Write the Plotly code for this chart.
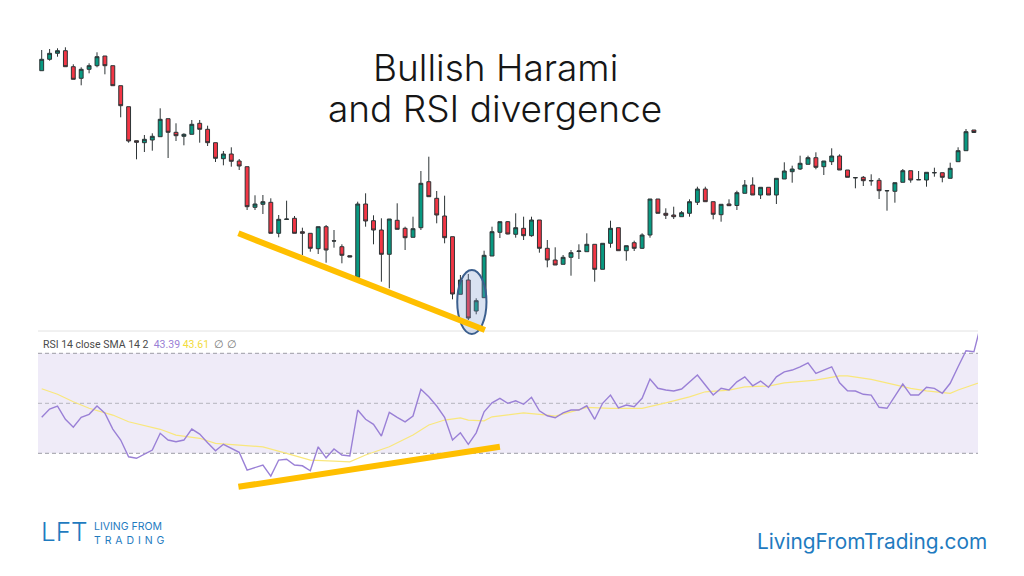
import plotly.graph_objects as go

# ---------------- data ----------------
opens = [329.3, 340.7, 346.7, 349.3, 333.3, 321.7, 330.7, 334.3, 344.0, 334.3,
         314.3, 293.3, 259.3, 257.3, 260.0, 263.3, 281.3, 267.7, 263.7, 265.7,
         276.7, 270.7, 257.3, 241.3, 246.0, 239.0, 233.3, 192.7, 195.7, 197.7,
         166.7, 180.5, 181.7, 168.3, 166.7, 151.3, 173.3, 159.2, 153.3, 144.3,
         122.7, 196.0, 179.3, 170.0, 145.7, 179.7, 171.7, 162.7, 172.3, 218.3,
         201.7, 184.0, 163.3, 105.7, 120.0, 89.0, 102.3, 144.0, 167.7, 178.3,
         165.7, 171.7, 164.3, 180.0, 151.7, 140.0, 135.7, 142.7, 148.5, 148.3,
         155.7, 130.7, 156.7, 172.3, 149.3, 157.3, 151.7, 165.0, 201.0, 186.7,
         185.0, 183.3, 186.7, 197.7, 211.0, 198.3, 185.3, 196.0, 194.5, 206.7,
         215.0, 205.0, 212.7, 205.0, 221.0, 228.3, 231.0, 235.7, 242.3, 233.3,
         238.3, 244.0, 230.0, 222.5, 222.7, 219.5, 219.7, 209.5, 208.7, 217.7,
         229.3, 220.5, 220.0, 227.5, 227.3, 221.7, 238.3, 249.3, 270.0]
highs = [350.0, 351.0, 351.7, 352.7, 335.7, 332.7, 336.7, 347.7, 344.0, 334.3,
         314.3, 293.3, 259.3, 265.0, 266.7, 291.7, 281.3, 276.7, 266.7, 280.0,
         280.0, 274.3, 257.3, 249.0, 252.7, 241.0, 233.3, 204.7, 205.0, 201.7,
         185.0, 199.3, 184.0, 172.3, 166.7, 173.3, 175.0, 170.0, 155.7, 144.3,
         198.3, 206.7, 184.7, 181.7, 181.0, 196.7, 173.3, 183.3, 229.0, 243.3,
         209.0, 204.3, 163.3, 125.0, 126.0, 101.7, 149.3, 173.3, 178.3, 179.0,
         186.7, 183.3, 183.3, 180.0, 160.0, 152.7, 145.0, 150.0, 155.7, 166.7,
         155.7, 156.7, 179.3, 172.3, 154.3, 159.3, 166.7, 201.0, 201.0, 191.7,
         193.3, 189.0, 200.7, 213.3, 213.3, 198.3, 195.7, 200.7, 209.3, 220.0,
         222.7, 212.7, 212.7, 221.7, 237.7, 234.3, 244.3, 244.3, 247.7, 239.0,
         251.7, 245.7, 230.0, 222.7, 224.0, 225.7, 222.0, 209.7, 217.3, 231.0,
         229.3, 229.0, 227.7, 232.3, 227.3, 237.3, 252.7, 271.0, 270.0]
lows = [329.3, 339.3, 343.3, 333.3, 320.7, 314.7, 326.7, 332.7, 325.7, 314.3,
        282.7, 257.3, 240.7, 248.0, 249.3, 263.3, 242.0, 259.0, 254.7, 265.7,
        257.3, 254.0, 238.0, 234.7, 233.3, 230.0, 190.0, 190.0, 186.0, 166.7,
        162.7, 180.0, 166.7, 145.0, 148.3, 146.0, 137.3, 152.3, 136.7, 143.0,
        122.7, 173.3, 155.7, 118.3, 111.7, 170.7, 150.0, 162.7, 170.0, 203.3,
        176.7, 156.7, 100.7, 105.7, 80.0, 85.7, 102.3, 144.0, 162.0, 165.7,
        162.3, 160.0, 163.3, 147.3, 132.7, 135.0, 135.7, 124.3, 141.0, 148.3,
        118.3, 130.7, 152.3, 149.3, 139.3, 149.0, 151.0, 162.3, 186.7, 181.0,
        181.0, 183.3, 183.3, 195.0, 198.3, 180.7, 178.3, 194.0, 190.0, 206.7,
        205.0, 201.0, 205.0, 196.0, 221.0, 217.3, 230.0, 235.7, 230.7, 225.0,
        235.0, 230.0, 222.7, 211.7, 214.0, 214.3, 201.0, 189.3, 197.3, 217.7,
        217.3, 220.0, 213.3, 223.3, 217.7, 221.7, 238.3, 249.3, 267.3]
closes = [340.7, 346.7, 349.3, 333.3, 320.7, 330.7, 334.3, 343.3, 334.3, 314.3,
          294.3, 259.0, 257.7, 260.7, 263.7, 280.7, 267.7, 264.3, 265.7, 275.7,
          270.7, 257.3, 241.7, 246.0, 238.7, 234.0, 193.3, 196.0, 198.3, 166.7,
          180.7, 181.0, 166.7, 166.7, 151.7, 173.3, 150.0, 159.0, 144.7, 143.0,
          196.0, 179.0, 170.0, 145.7, 181.0, 170.7, 162.3, 171.3, 216.7, 203.3,
          185.0, 162.3, 106.0, 120.0, 82.0, 99.3, 144.7, 168.3, 178.3, 166.0,
          172.3, 164.3, 180.0, 151.7, 140.0, 135.0, 142.7, 147.3, 149.0, 155.7,
          130.7, 156.7, 171.7, 149.3, 154.3, 151.7, 165.0, 201.0, 186.7, 184.7,
          183.3, 187.3, 198.3, 211.0, 198.3, 185.7, 195.7, 194.3, 207.3, 215.0,
          205.0, 212.7, 205.0, 221.7, 229.0, 231.0, 236.7, 242.3, 232.7, 239.0,
          244.0, 230.0, 222.7, 222.2, 219.3, 219.2, 209.3, 209.2, 217.3, 229.3,
          220.0, 220.2, 227.7, 227.2, 222.7, 231.7, 249.3, 268.3, 267.5]

rsi = [44.4, 47.7, 48.9, 43.6, 40.4, 44.4, 45.6, 48.9, 46.0, 39.7,
       35.3, 28.6, 28.0, 29.7, 31.3, 38.0, 35.3, 34.6, 35.3, 39.7,
       37.7, 34.2, 31.0, 33.6, 32.0, 30.4, 23.3, 24.4, 25.3, 20.9,
       27.3, 27.6, 25.3, 25.0, 23.0, 32.6, 28.2, 31.7, 29.3, 28.9,
       47.3, 43.6, 41.6, 36.9, 46.4, 44.4, 42.6, 44.9, 55.6, 52.6,
       48.9, 44.4, 35.3, 38.2, 33.6, 38.2, 46.6, 50.2, 52.0, 50.0,
       51.0, 49.6, 52.4, 47.0, 45.0, 44.2, 46.2, 47.3, 47.3, 49.0,
       43.6, 50.0, 53.3, 48.2, 49.3, 48.6, 52.0, 59.7, 56.0, 55.3,
       54.9, 55.7, 58.4, 61.3, 57.3, 53.3, 56.0, 55.3, 58.6, 60.6,
       57.0, 58.9, 56.4, 60.6, 62.6, 63.3, 64.6, 66.2, 62.0, 63.3,
       64.6, 58.2, 55.0, 54.9, 53.6, 53.3, 48.4, 48.0, 52.9, 57.7,
       53.3, 53.3, 56.4, 56.0, 54.0, 58.0, 64.6, 71.0, 70.6, 82.9]

sma_idx = [0, 2, 4, 6, 9, 11, 15, 17, 20, 22, 25, 28, 31, 34, 37, 39, 41, 44, 47, 49,
           51, 53, 54, 56, 57, 59, 61, 64, 65, 67, 68, 69, 72, 76, 79, 82, 84, 87, 89,
           92, 94, 98, 101, 102, 105, 108, 110, 112, 115, 116, 119]
sma_vals = [55.8, 53.6, 50.6, 48.0, 45.3, 42.6, 39.6, 37.3, 36.0, 34.0, 33.3, 32.6, 30.0,
            27.3, 26.9, 26.6, 29.3, 32.6, 37.3, 41.3, 43.3, 44.2, 43.3, 43.0, 44.6, 45.3,
            46.2, 45.3, 44.9, 46.6, 47.6, 48.4, 48.0, 48.0, 50.2, 52.6, 54.6, 55.3, 56.6,
            56.9, 58.2, 59.3, 61.0, 61.0, 59.6, 57.6, 56.0, 55.0, 54.0, 55.3, 58.6]

rsi_levels = [70, 50, 30]
price_div = [(24.9, 166.7), (56.1, 70.0)]   # (bar index, price)
rsi_div = [(24.9, 16.6), (58.0, 32.6)]      # (bar index, RSI)
harami_box = [(52.6, 66.0), (56.3, 130.0)]  # ellipse bounds (bar index, price)

title_lines = ["Bullish Harami", "and RSI divergence"]
rsi_label = "RSI 14 close SMA 14 2"
rsi_now, sma_now = "43.39", "43.61"

# ---------------- figure ----------------
W, H = 1024, 576
x_idx = list(range(len(opens)))
BLUE = "#1f7bbf"

fig = go.Figure()
fig.add_trace(go.Candlestick(
    x=x_idx, open=opens, high=highs, low=lows, close=closes,
    increasing=dict(fillcolor="#089981", line=dict(color="#2d3436", width=1)),
    decreasing=dict(fillcolor="#F23645", line=dict(color="#2d3436", width=1)),
    whiskerwidth=0, xaxis="x", yaxis="y", showlegend=False, hoverinfo="skip"))

fig.add_trace(go.Scatter(x=sma_idx, y=sma_vals, mode="lines",
                         line=dict(color="#f9e77c", width=1.2),
                         xaxis="x", yaxis="y2", showlegend=False, hoverinfo="skip"))
fig.add_trace(go.Scatter(x=list(range(len(rsi))), y=rsi, mode="lines",
                         line=dict(color="#9a80d6", width=1.4),
                         xaxis="x", yaxis="y2", showlegend=False, hoverinfo="skip"))

# pixel geometry helpers for axis layout
px_left, px_right = 38, 978
bar0_px, bar_step = 41.7, 7.9
xr = [(px_left - bar0_px) / bar_step, (px_right - bar0_px) / bar_step]

shapes = []
shapes.append(dict(type="rect", xref="x domain", yref="y2", x0=0, x1=1, y0=30, y1=70,
                   fillcolor="#efebf8", line=dict(width=0), layer="below"))
for lv in rsi_levels:
    shapes.append(dict(type="line", xref="x domain", yref="y2", x0=0, x1=1, y0=lv, y1=lv,
                       line=dict(color="#9d9da6" if lv != 50 else "#b5b5bd", width=1,
                                 dash="4px,3px"), layer="below"))
shapes.append(dict(type="line", xref="x domain", yref="paper", x0=0, x1=1,
                   y0=1 - 331 / H, y1=1 - 331 / H, line=dict(color="#e2e2e2", width=1)))
shapes.append(dict(type="circle", xref="x", yref="y",
                   x0=harami_box[0][0], x1=harami_box[1][0],
                   y0=harami_box[0][1], y1=harami_box[1][1],
                   fillcolor="rgba(120,150,205,0.28)", line=dict(color="#3b5f8e", width=2),
                   layer="above"))
shapes.append(dict(type="line", xref="x", yref="y", x0=price_div[0][0], y0=price_div[0][1],
                   x1=price_div[1][0], y1=price_div[1][1],
                   line=dict(color="#FFBF00", width=6), layer="above"))
shapes.append(dict(type="line", xref="x", yref="y2", x0=rsi_div[0][0], y0=rsi_div[0][1],
                   x1=rsi_div[1][0], y1=rsi_div[1][1],
                   line=dict(color="#FFBF00", width=6), layer="above"))

title_font = dict(family="Inter", size=37, color="#161616", weight=300)
annotations = [
    dict(text=title_lines[0], xref="paper", yref="paper", x=495 / W, y=1 - 67.5 / H,
         xanchor="center", yanchor="middle", showarrow=False, font=title_font),
    dict(text=title_lines[1], xref="paper", yref="paper", x=494.5 / W, y=1 - 108 / H,
         xanchor="center", yanchor="middle", showarrow=False, font=title_font),
    dict(text=(f"{rsi_label}  <span style='color:#9a80d6'>{rsi_now}</span> "
               f"<span style='color:#f2dc3c'>{sma_now}</span>  "
               f"<span style='color:#777'>∅ ∅</span>"),
         xref="paper", yref="paper", x=41 / W, y=1 - 344.5 / H,
         xanchor="left", yanchor="middle", showarrow=False,
         font=dict(family="Roboto", size=10.5, color="#4a4a4a")),
    dict(text="LFT", xref="paper", yref="paper", x=39 / W, y=1 - 531.5 / H,
         xanchor="left", yanchor="middle", showarrow=False,
         font=dict(family="Inter", size=26, color=BLUE, weight=300)),
    dict(text="LIVING FROM<br>T\u200a R\u200a A\u200a D\u200a I\u200a N\u200a G",
         xref="paper", yref="paper", x=92 / W, y=1 - 533 / H,
         xanchor="left", yanchor="middle", align="left", showarrow=False,
         font=dict(family="Inter", size=10.5, color=BLUE)),
    dict(text="LivingFromTrading.com", xref="paper", yref="paper", x=989 / W, y=1 - 541.5 / H,
         xanchor="right", yanchor="middle", showarrow=False,
         font=dict(family="Inter", size=20.8, color=BLUE)),
]

axis_off = dict(showgrid=False, zeroline=False, showticklabels=False, showline=False,
                ticks="", fixedrange=True)

fig.update_layout(
    width=W, height=H, margin=dict(l=0, r=0, t=0, b=0),
    paper_bgcolor="white", plot_bgcolor="rgba(0,0,0,0)",
    boxgap=0.3,
    xaxis=dict(domain=[px_left / W, px_right / W], range=xr, rangeslider=dict(visible=False),
               anchor="y", **axis_off),
    yaxis=dict(domain=[1 - 340 / H, 1], range=[60, 400], anchor="x", **axis_off),
    yaxis2=dict(domain=[0, 1 - 331 / H], range=[-19.08, 78.92], anchor="x", **axis_off),
    shapes=shapes, annotations=annotations,
)

fig.write_html("out.html")
